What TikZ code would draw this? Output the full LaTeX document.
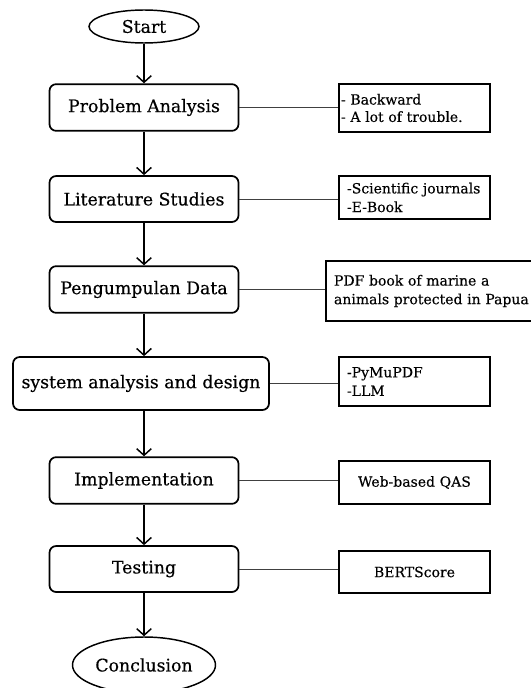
\documentclass[tikz,border=0pt]{standalone}
\usepackage{fontspec}
\setmainfont{DejaVu Serif}
\newfontfamily\mainfnt[FakeBold=0.45]{DejaVu Serif}
\newfontfamily\sidefnt[FakeBold=0.3]{DejaVu Serif}
\usetikzlibrary{shapes.geometric,arrows.meta}
\begin{document}
\begin{tikzpicture}[x=0.75pt,y=-0.75pt,
  mainbox/.style={draw,line width=1.3pt,rounded corners=5pt,minimum width=#1,minimum height=35pt,inner sep=0pt,font=\mainfnt\fontsize{13}{15}\selectfont},
  term/.style={draw,ellipse,line width=1.1pt,inner sep=0pt,font=\mainfnt\fontsize{13}{15}\selectfont},
  sidebox/.style={draw,line width=1.2pt,inner ysep=0pt,align=left,font=\sidefnt\fontsize{10.5}{14}\selectfont},
  flow/.style={line width=1.1pt,-{Straight Barb[length=5pt,width=11pt,line width=1.1pt]}},
  link/.style={line width=0.7pt,draw=black!75}]
\useasboundingbox (0,0) rectangle (531,688);
\clip (0,0) rectangle (531,688);

\node[term,minimum width=82.5pt,minimum height=24.75pt] (start) at (144,26.5) {Start};
\node[mainbox=141.75pt] (pa) at (144,107.5) {Problem Analysis};
\node[mainbox=141.75pt,minimum height=34.5pt] (ls) at (144,199) {Literature Studies};
\node[mainbox=141.75pt] (pd) at (144,289.5) {Pengumpulan Data};
\node[mainbox=192pt,minimum height=39.75pt] (sa) at (141,383.5) {system analysis and design};
\node[mainbox=141.75pt] (im) at (144,480.5) {Implementation};
\node[mainbox=141.75pt,minimum height=34.5pt] (te) at (144,569) {Testing};
\node[term,minimum width=107.25pt,minimum height=42pt] (co) at (144,665) {Conclusion};

\node[sidebox,inner xsep=1.5pt,text width=110.25pt,minimum height=36pt] (s1) at (414.5,108) {- Backward\\[-1pt]- A lot of trouble.\\[2pt]};
\node[sidebox,inner xsep=6pt,text width=101.25pt,minimum height=32.25pt] (s2) at (414.5,197.5) {-Scientific journals\\-E-Book};
\node[sidebox,inner xsep=6pt,text width=152.25pt,minimum height=45pt] (s3) at (435.5,291) {PDF book of marine a\\animals protected in Papua};
\node[sidebox,inner xsep=6pt,text width=101.25pt,minimum height=36.75pt] (s4) at (414.5,381.5) {-PyMuPDF\\-LLM};
\node[sidebox,align=center,inner xsep=0pt,text width=113.25pt,minimum height=32.25pt] (s5) at (414.5,482.5) {Web-based QAS};
\node[sidebox,align=center,inner xsep=0pt,text width=113.25pt,minimum height=31.5pt] (s6) at (414.5,572) {BERTScore};

\draw[flow] (start) -- (pa);
\draw[flow] (pa) -- (ls);
\draw[flow] (ls) -- (pd);
\draw[flow] (pd) -- (pd.south |- sa.north);
\draw[flow] (pd.south |- sa.south) -- (im);
\draw[flow] (im) -- (te);
\draw[flow] (te) -- (co);

\draw[link] (pa.east) -- (pa.east -| s1.west);
\draw[link] (ls.east) -- (ls.east -| s2.west);
\draw[link] (pd.east) -- (pd.east -| s3.west);
\draw[link] (sa.east) -- (sa.east -| s4.west);
\draw[link] (im.east) -- (im.east -| s5.west);
\draw[link] (te.east) -- (te.east -| s6.west);
\end{tikzpicture}
\end{document}
